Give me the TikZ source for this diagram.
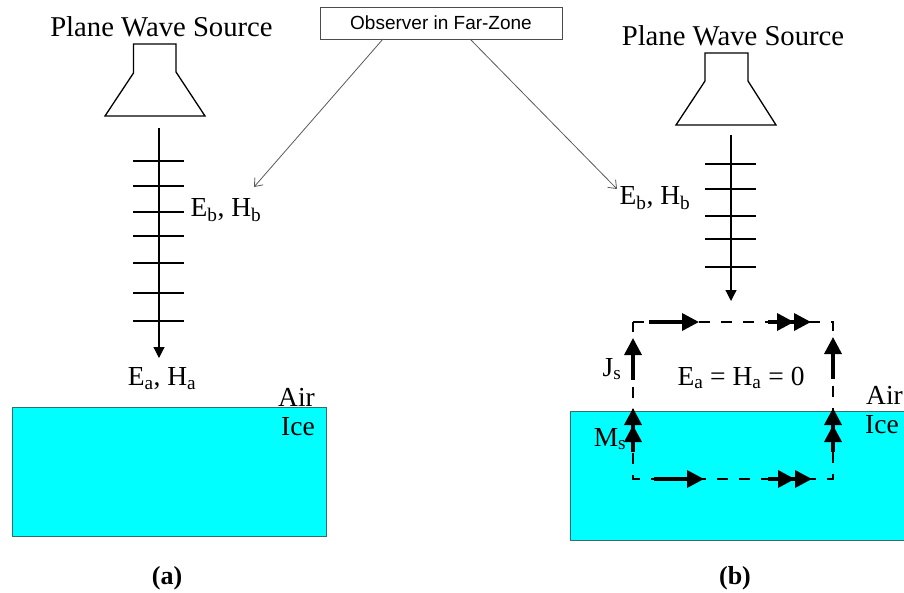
\documentclass[tikz,border=0pt]{standalone}
\usepackage{fontspec}
\setmainfont{Liberation Serif}
\newfontfamily\obsfont{Liberation Sans}
\usetikzlibrary{arrows.meta}
\definecolor{icecolor}{HTML}{00FFFF}
\definecolor{iceedge}{HTML}{2F6F6F}
\tikzset{
 horn/.style={draw, line width=1.3pt, line join=miter},
 wave/.style={draw, line width=1.2pt},
 lbl/.style={inner sep=0pt, font=\fontsize{27.5}{30}\selectfont},
 title/.style={inner sep=0pt, font=\fontsize{28.7}{32}\selectfont},
 capt/.style={inner sep=0pt, font=\fontsize{26}{30}\selectfont\bfseries},
 ice/.style={fill=icecolor, draw=iceedge, line width=1pt},
 farline/.style={draw=black!65, line width=0.8pt, -{Straight Barb[length=7pt,width=11pt,line width=0.8pt]}},
 loopline/.style={draw, line width=1.5pt, dash pattern=on 11pt off 11pt},
 onehead/.style={draw, line width=3.5pt, -{Triangle[length=17pt,width=17pt]}},
 twohead/.style={draw, line width=3.5pt, -{Triangle[length=17pt,width=17pt]Triangle[length=17pt,width=17pt]}}
}
\begin{document}
\begin{tikzpicture}[x=1pt,y=-1pt]
 \useasboundingbox (0,0) rectangle (904,592);
 % ice blocks
 \draw[ice] (12,407) rectangle (326,536);
 \fill[icecolor] (570,411) rectangle (904,540);
 \draw[iceedge, line width=1pt] (904,411) -- (570,411) -- (570,540) -- (904,540);
 % observer
 \node[draw=black!70, line width=0.9pt, minimum width=242pt, minimum height=32pt, inner sep=0pt,
   font=\obsfont\fontsize{19}{22}\selectfont] (obs) at (441,23) {Observer in Far-Zone};
 \coordinate (obsl) at (383,39);
 \coordinate (obsr) at (470,39);
 \coordinate (tipl) at (254,187);
 \coordinate (tipr) at (617,189);
 \draw[farline] (obsl) -- (tipl);
 \draw[farline] (obsr) -- (tipr);
 % left source
 \node[title] (srca) at (161.5,27) {Plane Wave Source};
 \draw[horn] (105,116) -- (133.5,73) -- (133.5,44) -- (176,44) -- (176,72) -- (205,116) -- cycle;
 \coordinate (wavea) at (159,128);
 \coordinate (waveb) at (159,358);
 \draw[wave, -{Triangle[length=11pt,width=11pt]}] (wavea) -- (waveb);
 \foreach \y in {161,186,212,236,263,293,321}
  \draw[wave] (133,\y) -- (184,\y);
 \node[lbl] (eba) at (226,210) {E\textsubscript{b}, H\textsubscript{b}};
 \node[lbl] (eaa) at (162,379) {E\textsubscript{a}, H\textsubscript{a}};
 \node[lbl, anchor=east] (aira) at (315,397) {Air};
 \node[lbl, anchor=east] (icea) at (315,427) {Ice};
 \node[capt] (capa) at (167,578) {(a)};
 % right source
 \node[title] (srcb) at (733,36) {Plane Wave Source};
 \draw[horn] (676,125) -- (705,81) -- (705,53) -- (748,53) -- (748,81) -- (776,125) -- cycle;
 \coordinate (wavec) at (731,135);
 \coordinate (waved) at (731,301);
 \draw[wave, -{Triangle[length=11pt,width=11pt]}] (wavec) -- (waved);
 \foreach \y in {164,189,216,239,267}
  \draw[wave] (705,\y) -- (756,\y);
 \node[lbl] (ebb) at (655,198) {E\textsubscript{b}, H\textsubscript{b}};
 % surface currents
 \coordinate (lt) at (633,322);
 \coordinate (rt) at (833,322);
 \coordinate (rb) at (833,479);
 \coordinate (lb) at (633,479);
 \draw[loopline] (lt) -- (rt) -- (rb) -- (lb) -- cycle;
 \draw[onehead] (649,322) -- (699,322);
 \draw[twohead] (768,322) -- (811,322);
 \draw[onehead] (654,479) -- (704,479);
 \draw[twohead] (768,479) -- (812,479);
 \draw[onehead] (633,380) -- (633,338);
 \draw[onehead] (833,379) -- (833,337);
 \draw[twohead] (633,452) -- (633,408);
 \draw[twohead] (833,452) -- (833,408);
 \node[lbl] (js) at (612,369) {J\textsubscript{s}};
 \node[lbl] (ms) at (610,439) {M\textsubscript{s}};
 \node[lbl] (zero) at (741,378) {E\textsubscript{a} = H\textsubscript{a} = 0};
 \node[lbl, anchor=east] (airb) at (903,395) {Air};
 \node[lbl, anchor=east] (iceb) at (899,425) {Ice};
 \node[capt] (capb) at (735,578) {(b)};
\end{tikzpicture}
\end{document}
